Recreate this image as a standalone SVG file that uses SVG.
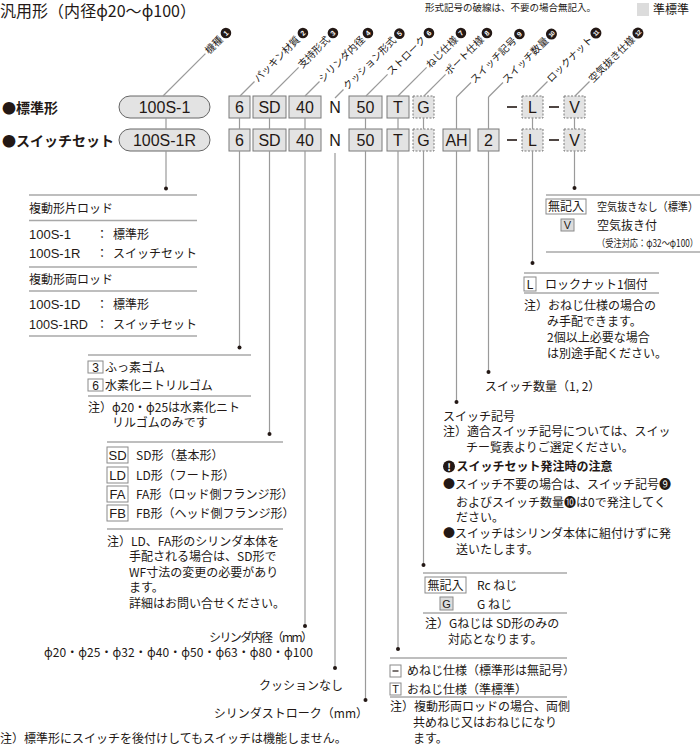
<svg xmlns="http://www.w3.org/2000/svg" width="700" height="744" viewBox="0 0 700 744">
<style>
text{font-family:"Noto Sans CJK JP","Noto Sans",sans-serif;fill:#231815}
.s12{font-size:12px}
.s10{font-size:10px}
.bx{font-size:16px;text-anchor:middle;font-family:"Liberation Sans",Arial,sans-serif}
.lat{font-family:"Liberation Sans",Arial,sans-serif}
.box{fill:#e3e3e3;stroke:#7a7a7a;stroke-width:1}
.dbox{fill:#e3e3e3;stroke:#7a7a7a;stroke-width:1;stroke-dasharray:2 1.5}
.wbox{fill:#fff;stroke:#8a8a8a;stroke-width:1}
.gbox{fill:#dcdcdc;stroke:#8a8a8a;stroke-width:1}
.c{stroke:#9a9a9a;stroke-width:1.2;fill:none}
.sep{stroke:#a8a8a8;stroke-width:1.4}
.dot{fill:#231815}
.lbl{font-size:10px;text-anchor:end}
.cir{fill:#231815}
.num{font-size:7px;font-weight:bold;fill:#fff;text-anchor:middle;font-family:"Liberation Sans",sans-serif}
.num2{font-size:6px;font-weight:bold;fill:#fff;text-anchor:middle;font-family:"Liberation Sans",sans-serif;letter-spacing:-0.5px}
.phi{font-family:"Noto Sans",sans-serif}
.mid{text-anchor:middle}
.end{text-anchor:end}
.bl{font-size:12px;text-anchor:middle;font-family:"Liberation Sans",Arial,sans-serif}
</style>

<!-- header -->
<g id="header">
<text x="0" y="17" style="font-size:16px" textLength="196" lengthAdjust="spacing">汎用形（内径<tspan class="phi">φ</tspan>20～<tspan class="phi">φ</tspan>100）</text>
<text x="425" y="11" style="font-size:9.5px">形式記号の破線は、不要の場合無記入。</text>
<rect x="637" y="3" width="12" height="13" fill="#dcdcdc"/>
<text x="653" y="14" style="font-size:12px">準標準</text>
</g>

<!-- row titles -->
<g id="row-titles">
<text x="2" y="112.5" style="font-size:14px;font-weight:bold">●標準形</text>
<text x="2" y="146" style="font-size:14px;font-weight:bold">●スイッチセット</text>
</g>

<!-- row 1 -->
<g id="row1">
<rect x="119" y="96" width="91" height="22" rx="11" class="box" style="stroke:#666"/>
<text x="164.5" y="112.7" class="bx">100S-1</text>
<rect class="box" x="229" y="96" width="21" height="22"/><text class="bx" x="239.5" y="112.7">6</text>
<rect class="box" x="253" y="96" width="33" height="22"/><text class="bx" x="269.5" y="112.7">SD</text>
<rect class="box" x="289" y="96" width="32" height="22"/><text class="bx" x="305" y="112.7">40</text>
<text class="bx" x="335" y="112.7">N</text>
<rect class="box" x="349" y="96" width="33" height="22"/><text class="bx" x="365.5" y="112.7">50</text>
<rect class="box" x="387" y="96" width="22" height="22"/><text class="bx" x="398" y="112.7">T</text>
<rect class="dbox" x="413" y="96" width="21" height="22"/><text class="bx" x="423.5" y="112.7">G</text>
<line x1="507" y1="107" x2="517" y2="107" stroke="#231815" stroke-width="1.6"/>
<rect class="dbox" x="522" y="96" width="21" height="22"/><text class="bx" x="532.5" y="112.7">L</text>
<line x1="549" y1="107" x2="559" y2="107" stroke="#231815" stroke-width="1.6"/>
<rect class="dbox" x="564" y="96" width="21" height="22"/><text class="bx" x="574.5" y="112.7">V</text>
</g>

<!-- row 2 -->
<g id="row2">
<rect x="119" y="129" width="91" height="22" rx="11" class="box" style="stroke:#666"/>
<text x="164.5" y="145.7" class="bx">100S-1R</text>
<rect class="box" x="229" y="129" width="21" height="22"/><text class="bx" x="239.5" y="145.7">6</text>
<rect class="box" x="253" y="129" width="33" height="22"/><text class="bx" x="269.5" y="145.7">SD</text>
<rect class="box" x="289" y="129" width="32" height="22"/><text class="bx" x="305" y="145.7">40</text>
<text class="bx" x="335" y="145.7">N</text>
<rect class="box" x="349" y="129" width="33" height="22"/><text class="bx" x="365.5" y="145.7">50</text>
<rect class="box" x="387" y="129" width="22" height="22"/><text class="bx" x="398" y="145.7">T</text>
<rect class="dbox" x="413" y="129" width="21" height="22"/><text class="bx" x="423.5" y="145.7">G</text>
<rect class="box" x="443" y="129" width="27" height="22"/><text class="bx" x="456.5" y="145.7">AH</text>
<rect class="box" x="478" y="129" width="21" height="22"/><text class="bx" x="488.5" y="145.7">2</text>
<line x1="507" y1="140" x2="517" y2="140" stroke="#231815" stroke-width="1.6"/>
<rect class="dbox" x="522" y="129" width="21" height="22"/><text class="bx" x="532.5" y="145.7">L</text>
<line x1="549" y1="140" x2="559" y2="140" stroke="#231815" stroke-width="1.6"/>
<rect class="dbox" x="564" y="129" width="21" height="22"/><text class="bx" x="574.5" y="145.7">V</text>
</g>

<!-- rotated item labels -->
<g id="label-1" transform="translate(163,96) rotate(-45)"><line class="c" x1="0" y1="0" x2="60" y2="0"/><text class="lbl" x="82" y="3.5">機種</text><circle class="cir" cx="89" cy="0" r="5.3"/><text class="num" x="89" y="2.5">1</text></g>
<g id="label-2" transform="translate(240,96) rotate(-45)"><line class="c" x1="0" y1="0" x2="20.5" y2="0"/><text class="lbl" x="82" y="3.5">パッキン材質</text><circle class="cir" cx="89" cy="0" r="5.3"/><text class="num" x="89" y="2.5">2</text></g>
<g id="label-3" transform="translate(270,96) rotate(-45)"><line class="c" x1="0" y1="0" x2="40.5" y2="0"/><text class="lbl" x="82" y="3.5">支持形式</text><circle class="cir" cx="89" cy="0" r="5.3"/><text class="num" x="89" y="2.5">3</text></g>
<g id="label-4" transform="translate(305,96) rotate(-45)"><line class="c" x1="0" y1="0" x2="20.5" y2="0"/><text class="lbl" x="82" y="3.5">シリンダ内径</text><circle class="cir" cx="89" cy="0" r="5.3"/><text class="num" x="89" y="2.5">4</text></g>
<g id="label-5" transform="translate(335,98) rotate(-45)"><line class="c" x1="0" y1="0" x2="12" y2="0"/><text class="lbl" x="84" y="3.5">クッション形式</text><circle class="cir" cx="91" cy="0" r="5.3"/><text class="num" x="91" y="2.5">5</text></g>
<g id="label-6" transform="translate(366,96) rotate(-45)"><line class="c" x1="0" y1="0" x2="30.5" y2="0"/><text class="lbl" x="82" y="3.5">ストローク</text><circle class="cir" cx="89" cy="0" r="5.3"/><text class="num" x="89" y="2.5">6</text></g>
<g id="label-7" transform="translate(398,96) rotate(-45)"><line class="c" x1="0" y1="0" x2="40.5" y2="0"/><text class="lbl" x="82" y="3.5">ねじ仕様</text><circle class="cir" cx="89" cy="0" r="5.3"/><text class="num" x="89" y="2.5">7</text></g>
<g id="label-8" transform="translate(424,96) rotate(-45)"><line class="c" x1="0" y1="0" x2="30.5" y2="0"/><text class="lbl" x="82" y="3.5">ポート仕様</text><circle class="cir" cx="89" cy="0" r="5.3"/><text class="num" x="89" y="2.5">8</text></g>
<g id="label-9"><line class="c" x1="456.5" y1="129" x2="456.5" y2="97"/><g transform="translate(456.5,97) rotate(-45)"><line class="c" x1="0" y1="0" x2="20.5" y2="0"/><text class="lbl" x="82" y="3.5">スイッチ記号</text><circle class="cir" cx="89" cy="0" r="5.3"/><text class="num" x="89" y="2.5">9</text></g></g>
<g id="label-10"><line class="c" x1="488.5" y1="129" x2="488.5" y2="97"/><g transform="translate(488.5,97) rotate(-45)"><line class="c" x1="0" y1="0" x2="20.5" y2="0"/><text class="lbl" x="82" y="3.5">スイッチ数量</text><circle class="cir" cx="89" cy="0" r="5.5"/><text class="num2" x="89" y="2.2">10</text></g></g>
<g id="label-11" transform="translate(533,96) rotate(-45)"><line class="c" x1="0" y1="0" x2="20.5" y2="0"/><text class="lbl" x="82" y="3.5">ロックナット</text><circle class="cir" cx="89" cy="0" r="5.5"/><text class="num2" x="89" y="2.2">11</text></g>
<g id="label-12" transform="translate(575,96) rotate(-45)"><line class="c" x1="0" y1="0" x2="20.5" y2="0"/><text class="lbl" x="82" y="3.5">空気抜き仕様</text><circle class="cir" cx="89" cy="0" r="5.5"/><text class="num2" x="89" y="2.2">12</text></g>

<!-- connectors -->
<g id="connectors">
<path class="c" d="M166,118V129M166,151V188.5 M239.5,118V129M239.5,151V347.5 M269.5,118V129M269.5,151V434 M305,118V129M305,151V626 M335,153V668 M365.5,118V129M365.5,151V700 M398,118V129M398,151V649 M423.5,118V129M423.5,151V565 M456.5,151V402 M488.5,151V372 M532.5,118V129M532.5,151V263 M574.5,118V129M574.5,151V188"/>
<circle class="dot" cx="166" cy="188.5" r="2"/>
<circle class="dot" cx="239.5" cy="347.5" r="2"/>
<circle class="dot" cx="269.5" cy="434" r="2"/>
<circle class="dot" cx="305" cy="626" r="2"/>
<circle class="dot" cx="335" cy="668" r="2"/>
<circle class="dot" cx="365.5" cy="700" r="2"/>
<circle class="dot" cx="398" cy="649" r="2"/>
<circle class="dot" cx="423.5" cy="565" r="2"/>
<circle class="dot" cx="456.5" cy="402" r="2"/>
<circle class="dot" cx="488.5" cy="372" r="2"/>
<circle class="dot" cx="532.5" cy="263" r="2"/>
<circle class="dot" cx="574.5" cy="188" r="2"/>
</g>

<!-- model list -->
<g id="note-model">
<line class="sep" x1="29" y1="195" x2="197" y2="195"/>
<text x="29" y="212.5" class="s12">複動形片ロッド</text>
<line class="sep" x1="29" y1="220.5" x2="197" y2="220.5"/>
<text x="29" y="238.5" class="lat" style="font-size:13px">100S-1</text><text x="96" y="238.5" class="s12">：</text><text x="113" y="238.5" class="s12">標準形</text>
<text x="29" y="257.5" class="lat" style="font-size:13px">100S-1R</text><text x="96" y="257.5" class="s12">：</text><text x="113" y="257.5" class="s12">スイッチセット</text>
<line class="sep" x1="29" y1="267" x2="197" y2="267"/>
<text x="29" y="283.5" class="s12">複動形両ロッド</text>
<line class="sep" x1="29" y1="291" x2="197" y2="291"/>
<text x="29" y="308.5" class="lat" style="font-size:13px">100S-1D</text><text x="96" y="308.5" class="s12">：</text><text x="113" y="308.5" class="s12">標準形</text>
<text x="29" y="328.5" class="lat" style="font-size:13px" textLength="59" lengthAdjust="spacingAndGlyphs">100S-1RD</text><text x="96" y="328.5" class="s12">：</text><text x="113" y="328.5" class="s12">スイッチセット</text>
<line class="sep" x1="29" y1="336" x2="197" y2="336"/>
</g>

<!-- packing -->
<g id="note-packing">
<line class="sep" x1="88" y1="355" x2="251" y2="355"/>
<rect class="wbox" x="88" y="361" width="15" height="12"/><text x="95.5" y="371.5" class="bl">3</text>
<text x="105" y="371.5" class="s12">ふっ素ゴム</text>
<rect class="wbox" x="88" y="379" width="15" height="12"/><text x="95.5" y="389.5" class="bl">6</text>
<text x="105" y="390" class="s12">水素化ニトリルゴム</text>
<line class="sep" x1="88" y1="396" x2="251" y2="396"/>
<text x="88" y="412" class="s12">注）<tspan class="phi">φ</tspan>20・<tspan class="phi">φ</tspan>25は水素化ニト</text>
<text x="112" y="427" class="s12">リルゴムのみです</text>
</g>

<!-- mounting -->
<g id="note-mounting">
<line class="sep" x1="107" y1="442" x2="283" y2="442"/>
<rect class="wbox" x="107" y="447" width="21" height="16"/><text x="117.5" y="459.5" class="bl" style="font-size:13px">SD</text>
<text x="136" y="459.5" class="s12">SD形（基本形）</text>
<rect class="wbox" x="107" y="467" width="21" height="16"/><text x="117.5" y="479.5" class="bl" style="font-size:13px">LD</text>
<text x="136" y="479.5" class="s12">LD形（フート形）</text>
<rect class="wbox" x="107" y="486" width="21" height="16"/><text x="117.5" y="498.5" class="bl" style="font-size:13px">FA</text>
<text x="136" y="498.5" class="s12">FA形（ロッド側フランジ形）</text>
<rect class="wbox" x="107" y="505" width="21" height="16"/><text x="117.5" y="517.5" class="bl" style="font-size:13px">FB</text>
<text x="136" y="517.5" class="s12">FB形（ヘッド側フランジ形）</text>
<line class="sep" x1="107" y1="529" x2="283" y2="529"/>
<text x="107" y="545.5" class="s12">注）LD、FA形のシリンダ本体を</text>
<text x="129" y="561" class="s12">手配される場合は、SD形で</text>
<text x="129" y="576.5" class="s12">WF寸法の変更の必要があり</text>
<text x="129" y="592" class="s12">ます。</text>
<text x="129" y="607.5" class="s12">詳細はお問い合せください。</text>
</g>

<!-- bore -->
<g id="note-bore">
<text x="313" y="641.5" class="s12 end" textLength="104" lengthAdjust="spacing">シリンダ内径（mm）</text>
<text x="313" y="657" class="s12 end" textLength="269" lengthAdjust="spacing"><tspan class="phi">φ</tspan>20・<tspan class="phi">φ</tspan>25・<tspan class="phi">φ</tspan>32・<tspan class="phi">φ</tspan>40・<tspan class="phi">φ</tspan>50・<tspan class="phi">φ</tspan>63・<tspan class="phi">φ</tspan>80・<tspan class="phi">φ</tspan>100</text>
</g>

<g id="note-cushion"><text x="343" y="689.5" class="s12 end">クッションなし</text></g>
<g id="note-stroke"><text x="368" y="717.5" class="s12 end">シリンダストローク（mm）</text></g>
<g id="note-bottom"><text x="0" y="742.5" class="s12">注）標準形にスイッチを後付けしてもスイッチは機能しません。</text></g>

<!-- thread -->
<g id="note-thread">
<line class="sep" x1="390" y1="658" x2="567" y2="658"/>
<rect class="wbox" x="390" y="665" width="11" height="12"/><line x1="392.5" y1="671" x2="398.5" y2="671" stroke="#231815" stroke-width="1.2"/>
<text x="407" y="675" class="s12">めねじ仕様（標準形は無記号）</text>
<rect class="wbox" x="390" y="683" width="11" height="12"/><text x="395.5" y="693" class="bl" style="font-size:11px">T</text>
<text x="407" y="693.5" class="s12">おねじ仕様（準標準）</text>
<line class="sep" x1="390" y1="697" x2="567" y2="697"/>
<text x="390" y="711" class="s12">注）複動形両ロッドの場合、両側</text>
<text x="413" y="727" class="s12">共めねじ又はおねじになり</text>
<text x="413" y="743" class="s12">ます。</text>
</g>

<!-- port -->
<g id="note-port">
<line class="sep" x1="423" y1="573" x2="567" y2="573"/>
<rect class="wbox" x="425" y="577" width="41" height="16"/><text x="445.5" y="589.5" class="mid s12">無記入</text>
<text x="477" y="590" class="s12">Rc ねじ</text>
<rect class="gbox" x="440" y="597" width="13" height="13"/><text x="446.5" y="608" class="bl" style="font-size:11px">G</text>
<text x="477" y="609" class="s12">G ねじ</text>
<line class="sep" x1="423" y1="613" x2="567" y2="613"/>
<text x="425" y="627.5" class="s12">注）Gねじは SD形のみの</text>
<text x="448" y="643.5" class="s12">対応となります。</text>
</g>

<!-- switch -->
<g id="note-switch">
<text x="443" y="420.5" class="s12">スイッチ記号</text>
<text x="443" y="435.5" class="s12">注）適合スイッチ記号については、スイッ</text>
<text x="466" y="451.5" class="s12">チー覧表よりご選定ください。</text>
<circle cx="449" cy="466.5" r="6" fill="#231815"/>
<text x="449" y="470.5" class="mid" style="font-size:10px;font-weight:bold;fill:#fff">!</text>
<text x="456.5" y="471" class="s12" style="font-weight:bold">スイッチセット発注時の注意</text>
<text x="443" y="488.5" class="s12">●スイッチ不要の場合は、スイッチ記号❾</text>
<text x="456" y="507" class="s12">およびスイッチ数量❿は0で発注してく</text>
<text x="456" y="522" class="s12">ださい。</text>
<text x="443" y="537.5" class="s12">●スイッチはシリンダ本体に組付けずに発</text>
<text x="456" y="553.5" class="s12">送いたします。</text>
</g>

<g id="note-switch-qty"><text x="485" y="390.5" class="s12">スイッチ数量（1, 2）</text></g>

<!-- lock nut -->
<g id="note-locknut">
<line class="sep" x1="524" y1="273" x2="659" y2="273"/>
<rect class="wbox" x="524" y="277" width="12" height="14"/><text x="530" y="288.5" class="bl" style="font-size:12px">L</text>
<text x="545" y="289" class="s12">ロックナット1個付</text>
<line class="sep" x1="524" y1="293" x2="659" y2="293"/>
<text x="524" y="309.5" class="s12">注）おねじ仕様の場合の</text>
<text x="547" y="325.5" class="s12">み手配できます。</text>
<text x="547" y="341.5" class="s12">2個以上必要な場合</text>
<text x="547" y="357.5" class="s12">は別途手配ください。</text>
</g>

<!-- air vent -->
<g id="note-airvent">
<line class="sep" x1="546" y1="195" x2="700" y2="195"/>
<rect class="wbox" x="546" y="199" width="40" height="15"/><text x="566" y="211" class="mid s12">無記入</text>
<text x="597" y="211" style="font-size:11.5px" textLength="101" lengthAdjust="spacingAndGlyphs">空気抜きなし（標準）</text>
<rect class="gbox" x="561" y="219" width="13" height="12"/><text x="567.5" y="229" class="bl" style="font-size:11px">V</text>
<text x="597" y="229.5" class="s12">空気抜き付</text>
<text x="597" y="246.5" class="s10" textLength="101" lengthAdjust="spacingAndGlyphs">（受注対応：φ32～φ100）</text>
<line class="sep" x1="546" y1="252" x2="700" y2="252"/>
</g>
</svg>
